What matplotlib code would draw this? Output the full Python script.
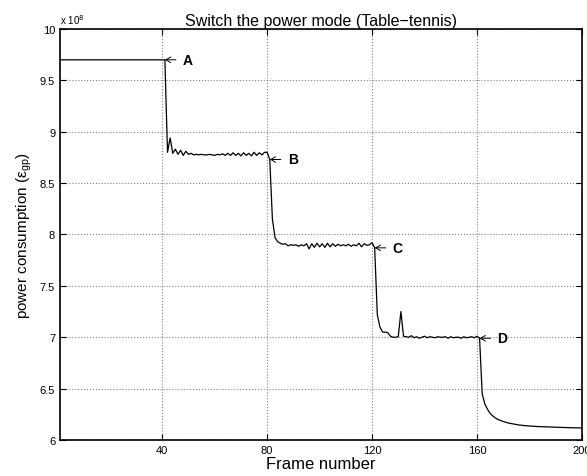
import numpy as np
import matplotlib
matplotlib.use('Agg')
import matplotlib.pyplot as plt

plt.rcParams['font.family'] = ['Liberation Sans', 'DejaVu Sans']

# power consumption values in units of 1e8, frames 1..200
seg_a = [9.7] * 41  # frames 1-41
seg_b = [8.80, 8.94, 8.79, 8.83, 8.78, 8.82, 8.77, 8.81, 8.78, 8.79,
         8.775, 8.78, 8.775, 8.78, 8.775, 8.775, 8.78, 8.775, 8.77, 8.78,
         8.775, 8.785, 8.77, 8.79, 8.77, 8.795, 8.77, 8.79, 8.765, 8.795,
         8.77, 8.79, 8.765, 8.80, 8.77, 8.795, 8.775, 8.80, 8.80, 8.73]
seg_c = [8.15, 7.97, 7.93, 7.915, 7.905, 7.91, 7.89, 7.90, 7.895, 7.90,
         7.885, 7.90, 7.89, 7.91, 7.86, 7.91, 7.875, 7.915, 7.88, 7.91,
         7.875, 7.915, 7.88, 7.91, 7.885, 7.905, 7.89, 7.90, 7.89, 7.905,
         7.885, 7.90, 7.89, 7.915, 7.88, 7.91, 7.895, 7.90, 7.92, 7.87]
seg_d = [7.22, 7.10, 7.05, 7.05, 7.045, 7.01, 7.00, 7.00, 7.005, 7.25,
         7.01, 7.005, 7.00, 7.015, 6.995, 7.005, 6.99, 7.00, 7.01, 6.995,
         7.005, 7.00, 6.995, 7.005, 7.00, 7.00, 7.005, 6.99, 7.005, 6.995,
         7.00, 7.00, 6.99, 7.005, 6.995, 7.00, 7.005, 6.995, 7.01, 6.99]
seg_e = [6.45, 6.35, 6.30, 6.26, 6.235, 6.215, 6.20, 6.19, 6.18, 6.172,
         6.165, 6.16, 6.155, 6.15, 6.146, 6.143, 6.14, 6.138, 6.136, 6.134,
         6.132, 6.131, 6.13, 6.129, 6.128, 6.127, 6.126, 6.125, 6.124, 6.123,
         6.122, 6.121, 6.12, 6.12, 6.119, 6.119, 6.118, 6.118, 6.117]

power = np.array(seg_a + seg_b + seg_c + seg_d + seg_e)
frames = np.arange(1, len(power) + 1)

marks = ['A', 'B', 'C', 'D']
mark_frames = [41, 81, 121, 161]

xticks = [40, 80, 120, 160, 200]
yticks = [6, 6.5, 7, 7.5, 8, 8.5, 9, 9.5, 10]

fig = plt.figure(figsize=(5.87, 4.77), dpi=100)
ax = fig.add_axes([0.1022, 0.0755, 0.889, 0.8616])

ax.plot(frames, power, color='black', lw=0.9)

for lab, f in zip(marks, mark_frames):
    ax.annotate(lab, xy=(f, power[f - 1]), xytext=(18, 0),
                textcoords='offset pixels', ha='left', va='center',
                fontsize=10, fontweight='bold',
                arrowprops=dict(arrowstyle='->,head_length=0.35,head_width=0.2',
                                lw=0.7, color='black', shrinkA=3, shrinkB=0))

ax.set_xlim(1, 200)
ax.set_ylim(6, 10)
ax.set_xticks(xticks)
ax.set_yticks(yticks)
ax.set_yticklabels(['6', '6.5', '7', '7.5', '8', '8.5', '9', '9.5', '10'])
ax.tick_params(direction='in', top=True, right=True, labelsize=8, length=4)
ax.grid(True, linestyle=':', color='#808080', lw=0.8)
for s in ax.spines.values():
    s.set_linewidth(1.2)

ax.text(0.0, 1.008, 'x 10$^{8}$', transform=ax.transAxes, fontsize=7,
        ha='left', va='bottom')
ax.set_title('Switch the power mode (Table\u2212tennis)', fontsize=11.5, pad=3)
ax.set_xlabel('Frame number', fontsize=12, labelpad=1)
ax.set_ylabel('power consumption (\u03b5$_{\\mathregular{gp}}$)', fontsize=11)

fig.savefig('out.png', dpi=100)
